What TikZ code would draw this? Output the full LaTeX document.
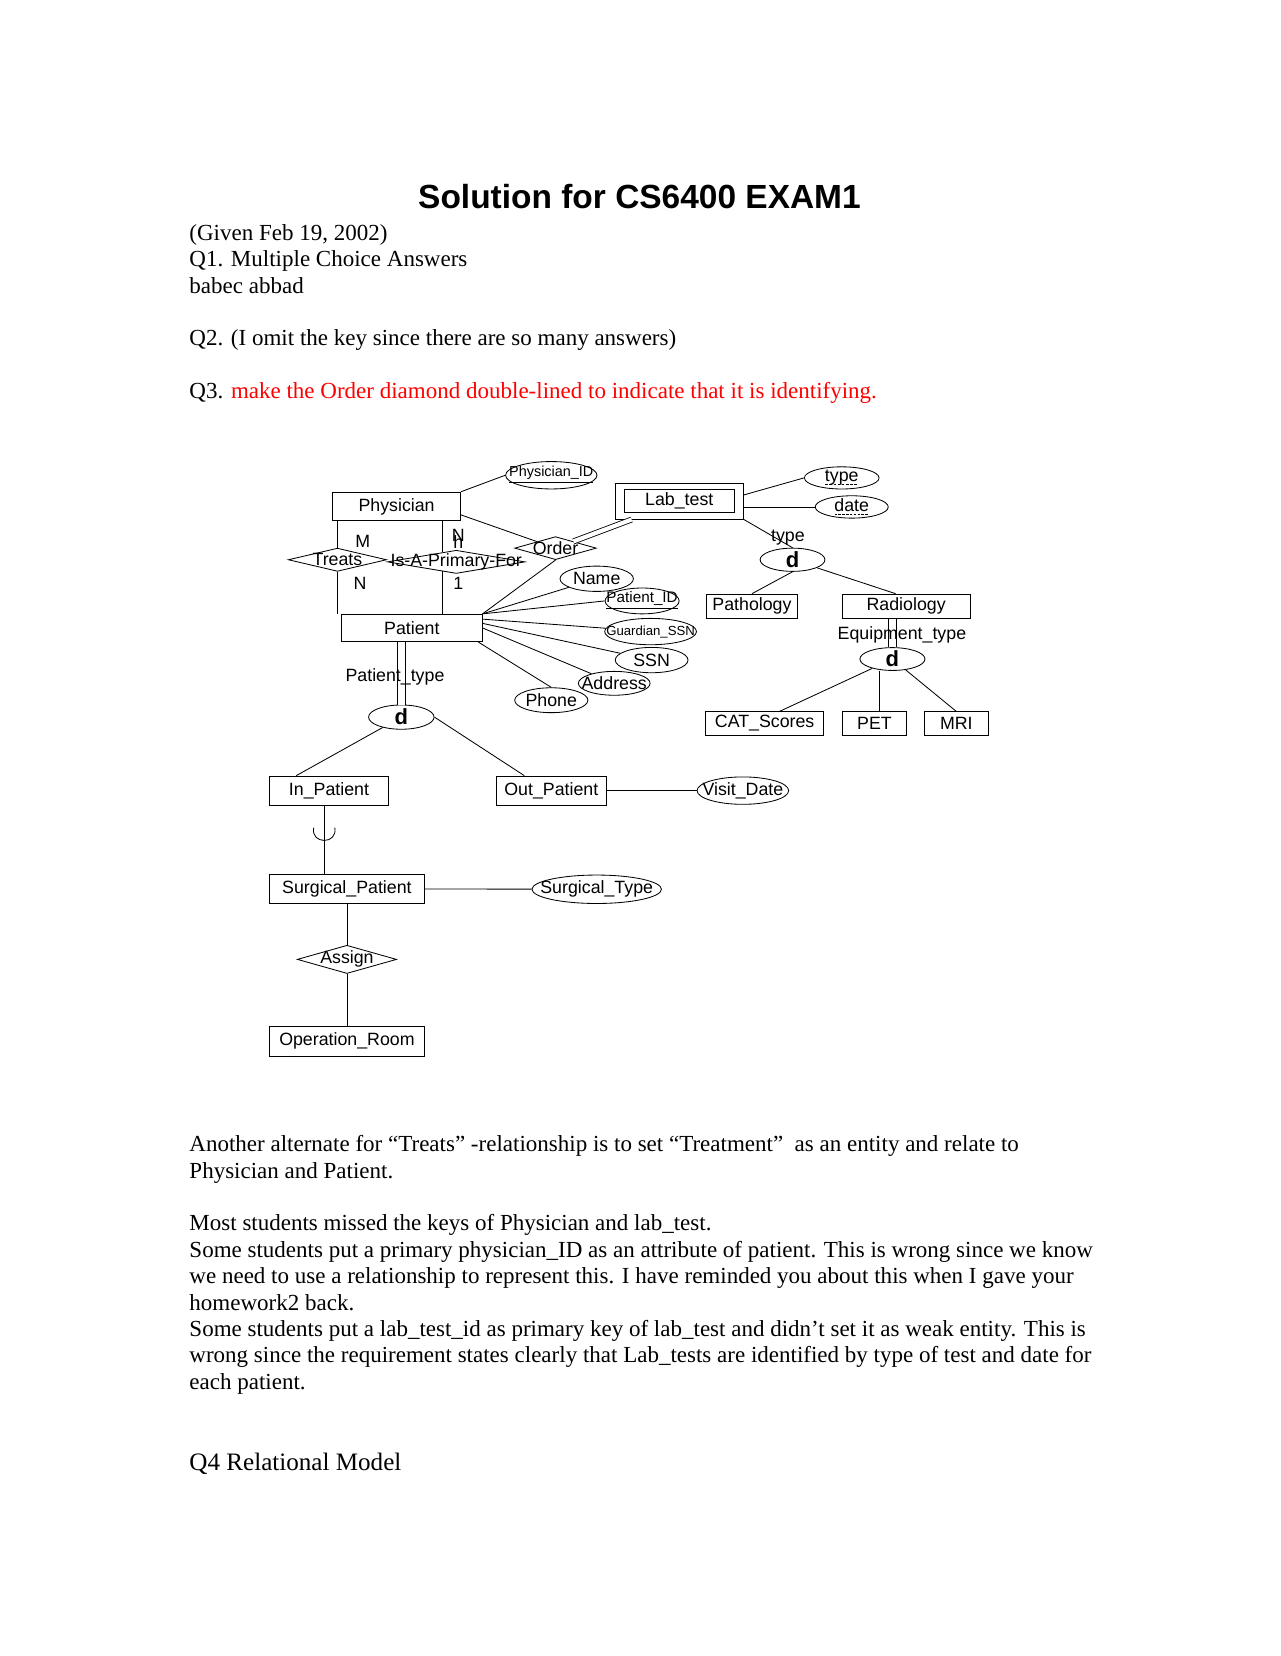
\documentclass[tikz,border=0pt]{standalone}
\usepackage{fontspec}
\setmainfont{Liberation Serif}
\newfontfamily\arial{Liberation Sans}
\usetikzlibrary{shapes.geometric,calc}
\newcommand{\erfont}{\arial\fontsize{8.5}{10}\selectfont}
\newcommand{\zw}[1]{\makebox[0pt]{#1}}
\newcommand{\dul}[1]{\setbox0\hbox{#1}\rlap{\hbox to\wd0{\xleaders\hbox{\vrule height -1pt depth 1.4pt width 1.2pt\kern0.6pt}\hfill}}\box0}
\tikzset{
  ent/.style={draw,inner sep=0pt,font=\erfont},
  rel/.style={draw,diamond,inner sep=0pt,font=\erfont},
  att/.style={draw,ellipse,inner sep=0pt,font=\erfont},
  disj/.style={draw,ellipse,inner sep=0pt,font=\arial\bfseries\fontsize{10.5}{12}\selectfont},
  lbl/.style={inner sep=0pt,font=\erfont},
  txt/.style={anchor=base west,inner sep=0pt,font=\fontsize{11}{12.6}\selectfont},
  dbl/.style={double,double distance=3.5pt}
}

\begin{document}
\begin{tikzpicture}[x=0.505pt,y=-0.505pt]
\useasboundingbox (0,0) rectangle (1212,1568);
% header text
\node[anchor=base,inner sep=0pt,font=\arial\bfseries\fontsize{16}{19}\selectfont] at (605.5,197) (ttl) {Solution for CS6400 EXAM1};
\node[txt] at (179,227.5) (t1) {(Given Feb 19, 2002)};
\node[txt] at (179,252.5) (t2) {Q1. Multiple Choice Answers};
\node[txt] at (179,277.5) (t3) {babec abbad};
\node[txt] at (179,327.5) (t4) {Q2. (I omit the key since there are so many answers)};
\node[txt] at (179,377.5) (t5) {Q3. \textcolor{red}{make the Order diamond double-lined to indicate that it is identifying.}};

% entities
\node[ent,minimum width=61.1pt,minimum height=13.6pt] at (375.5,479.5) (phys) {Physician};
\node[ent,minimum width=67.2pt,minimum height=13.1pt] at (390,594.6) (pat) {Patient};
\node[ent,minimum width=61.4pt,minimum height=17.1pt] at (643.2,474.6) (lab) {};
\node[ent,minimum width=52.9pt,minimum height=11.1pt] at (lab) (labin) {Lab\_test};
\node[ent,minimum width=43.7pt,minimum height=11.6pt] at (712,574) (path) {Pathology};
\node[ent,minimum width=61.1pt,minimum height=11.6pt] at (858,574) (rad) {Radiology};
\node[ent,minimum width=56.4pt,minimum height=11.1pt] at (724,685) (cat) {CAT\_Scores};
\node[ent,minimum width=30.3pt,minimum height=11.1pt] at (828,685) (pet) {PET};
\node[ent,minimum width=30.8pt,minimum height=11.1pt] at (905.5,685) (mri) {MRI};
\node[ent,minimum width=56.6pt,minimum height=13.9pt] at (311.5,748.6) (inp) {In\_Patient};
\node[ent,minimum width=52.5pt,minimum height=13.9pt] at (522,748.6) (outp) {Out\_Patient};
\node[ent,minimum width=74pt,minimum height=14pt] at (328.5,841.6) (surg) {Surgical\_Patient};
\node[ent,minimum width=74pt,minimum height=14.1pt] at (328.5,986) (oroom) {Operation\_Room};

% relationships
\node[rel,minimum width=47pt,minimum height=11.1pt] at (319.5,530) (treats) {\zw{Treats}};
\node[rel,minimum width=65.7pt,minimum height=11.1pt] at (432,532) (prim) {\zw{Is-A-Primary-For}};
\node[rel,minimum width=39pt,minimum height=11pt] at (526,519) (ord) {\zw{Order}};
\node[rel,minimum width=47.5pt,minimum height=13.5pt] at (328.5,908.4) (asg) {\zw{Assign}};

% attributes
\node[att,minimum width=43.7pt,minimum height=13.1pt,font=\arial\fontsize{6.9}{8}\selectfont] at (522,450) (pid) {\zw{\underline{Physician\_ID}}};
\node[att,minimum width=35.7pt,minimum height=10.6pt] at (797,452.5) (typ) {\zw{\dul{type}}};
\node[att,minimum width=34.9pt,minimum height=10.6pt] at (806.5,480) (dat) {\zw{\dul{date}}};
\node[att,minimum width=35.1pt,minimum height=12.1pt] at (565,548) (name) {\zw{Name}};
\node[att,minimum width=35.4pt,minimum height=10.1pt,font=\arial\fontsize{7.3}{8}\selectfont] at (608,569) (patid) {\zw{\underline{Patient\_ID}}};
\node[att,minimum width=43.9pt,minimum height=12.6pt,font=\arial\fontsize{6.3}{7}\selectfont] at (616,598) (gssn) {\zw{Guardian\_SSN}};
\node[att,minimum width=34.8pt,minimum height=12.1pt] at (617,625) (ssn) {\zw{SSN}};
\node[att,minimum width=34.3pt,minimum height=11.4pt] at (581.6,647) (addr) {\zw{Address}};
\node[att,minimum width=35pt,minimum height=11.9pt] at (522,663) (phone) {\zw{Phone}};
\node[att,minimum width=43.8pt,minimum height=13.1pt] at (703.4,748.6) (vd) {\zw{Visit\_Date}};
\node[att,minimum width=61.9pt,minimum height=13.6pt] at (565,842) (st) {\zw{Surgical\_Type}};

% disjoint circles
\node[disj,minimum width=31.3pt,minimum height=11.6pt] at (380,679) (pd) {\zw{d}};
\node[disj,minimum width=31pt,minimum height=11.1pt] at (750.4,530) (ld) {\zw{d}};
\node[disj,minimum width=31.1pt,minimum height=10.9pt] at (845,624) (rd) {\zw{d}};

% labels
\node[lbl] at (343.5,513) (m) {M};
\node[lbl] at (341,552) (n1) {N};
\node[lbl] at (434,507) (n2) {N};
\node[lbl] at (434,513) (n3) {h};
\node[lbl] at (434,552) (one) {1};
\node[lbl] at (746,509) (ltype) {type};

% connectors
\draw (phys.north east) to (pid.west);
\draw (treats) to (treats |- phys.south);
\draw (treats) to (treats |- pat.north);
\coordinate (pp) at ($(prim)+(-13,0)$);
\draw (pp |- phys.south) to ($(pp)+(0,-9)$);
\draw ($(pp)+(0,9)$) to (pp |- pat.north);
\draw ($(phys.east)+(0,8)$) to (ord);
\draw (ord.south) to (pat.north east);
\draw[double,double distance=2pt] (ord) to ($(lab.south west)+(16,0)$);
\draw ($(lab.east)+(0,-6)$) to (typ.west);
\draw (lab.east |- dat) to (dat.west);
\draw (lab.south east) to (ld.north);
\draw (ld.south) to (path.north);
\draw (ld) to ($(rad.north)+(-10,0)$);
\draw[dbl] (rd.north) to (rd |- rad.south);
\draw (rd) to ($(cat.north)+(14,0)$);
\coordinate (pl) at ($(pet.north)+(5,0)$);
\draw (pl) to (pl |- rd.south);
\draw (rd) to (mri.north);
\draw (pat.north east) to (name);
\draw (pat.north east) to (patid.west);
\draw ($(pat.north east)+(0,5)$) to (gssn);
\draw ($(pat.north east)+(0,9)$) to (ssn);
\draw (pat.east) to (addr);
\draw ($(pat.south east)+(-4,0)$) to (phone.north);
\draw[dbl] (pd.north) to (pd |- pat.south);
\draw (pd) to ($(inp.north)+(-31,0)$);
\draw (pd.east) to ($(outp.north)+(-25.5,0)$);
\draw (outp) to (vd);
\coordinate (sl) at ($(inp.south)+(-4.5,0)$);
\draw (sl) to (sl |- surg.north);
\coordinate (sub) at ($(sl)+(0,28)$);
\draw ($(sub)+(-10,-7)$) .. controls ($(sub)+(-13,9)$) and ($(sub)+(13,9)$) .. ($(sub)+(10,-7)$);
\draw (surg) to (st);
\draw (surg.south -| asg) to (asg.north);
\draw (asg.south) to (oroom.north);

% labels crossed by double lines
\node[lbl] at (374,641) (ptype) {Patient\_type};
\node[lbl] at (854,601) (etype) {Equipment\_type};

% footer text
\node[txt] at (179,1090.5) (b1) {Another alternate for “Treats” -relationship is to set “Treatment”~ as an entity and relate to};
\node[txt] at (179,1115.5) (b2) {Physician and Patient.};
\node[txt] at (179,1165.5) (b3) {Most students missed the keys of Physician and lab\_test.};
\node[txt] at (179,1190.5) (b4) {Some students put a primary physician\_ID as an attribute of patient. This is wrong since we know};
\node[txt] at (179,1215.5) (b5) {we need to use a relationship to represent this. I have reminded you about this when I gave your};
\node[txt] at (179,1240.5) (b6) {homework2 back.};
\node[txt] at (179,1265.5) (b7) {Some students put a lab\_test\_id as primary key of lab\_test and didn’t set it as weak entity. This is};
\node[txt] at (179,1290.5) (b8) {wrong since the requirement states clearly that Lab\_tests are identified by type of test and date for};
\node[txt] at (179,1315.5) (b9) {each patient.};
\node[txt,font=\fontsize{12}{14}\selectfont] at (179,1392) (q4) {Q4 Relational Model};
\end{tikzpicture}
\end{document}
